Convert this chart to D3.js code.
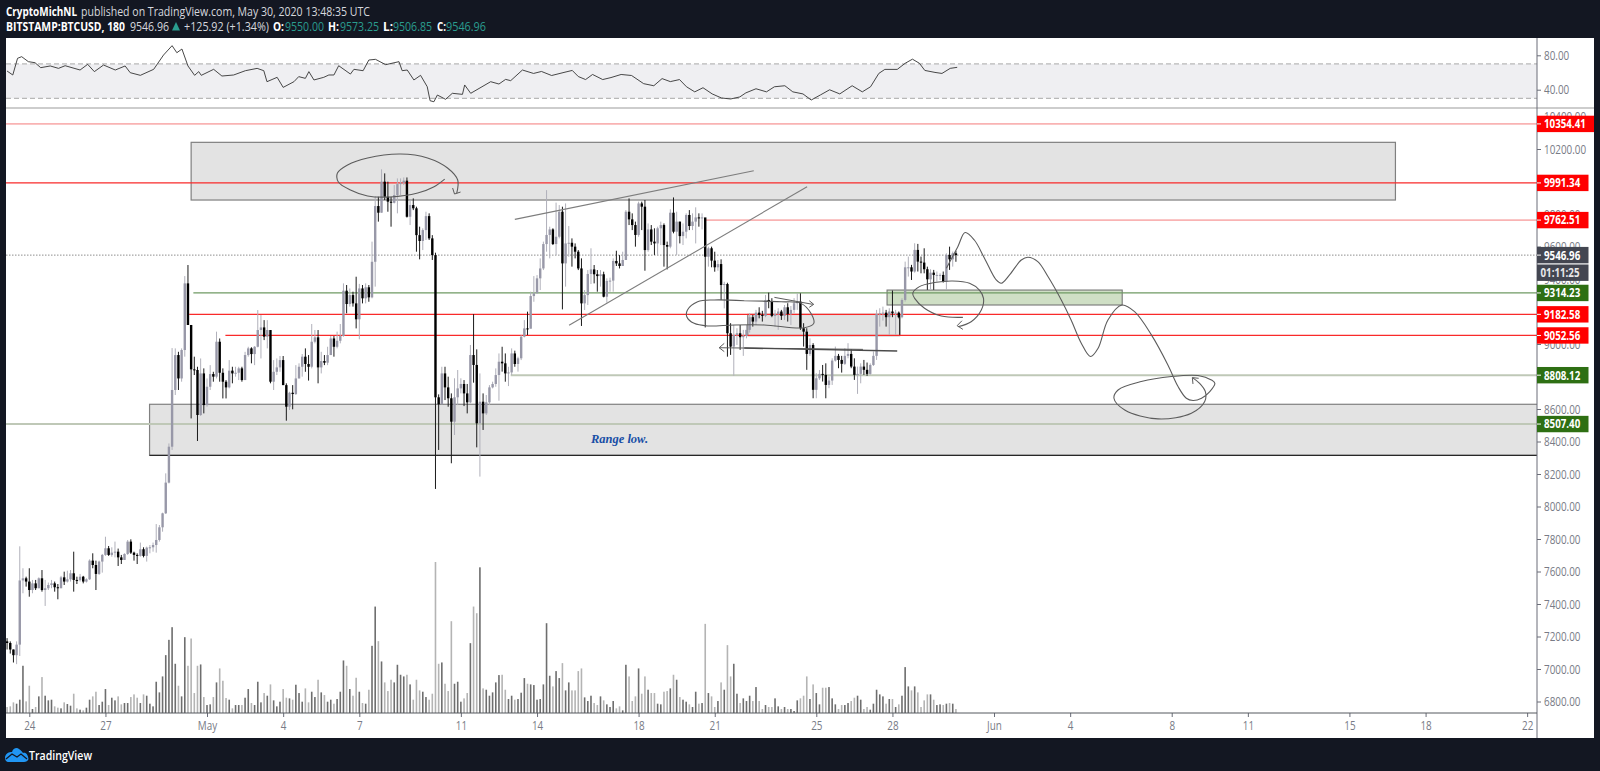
<!DOCTYPE html>
<html>
<head>
<meta charset="utf-8">
<script src="https://cdn.jsdelivr.net/npm/d3@7"></script>
<style>
  html, body { margin: 0; padding: 0; background: #131722; overflow: hidden; }
  text { font-family: "Open Sans", sans-serif; }
</style>
</head>
<body>
<script>
// 3 hour candles, first one is Apr 23 2020 03:00 UTC. Open = previous close.
const firstBar = Date.UTC(2020, 3, 23, 3);
const firstOpen = 7170;

const closes = [
  7160,7120,7085,7150,7545,7558,7538,7486,7527,7497,
  7558,7486,7497,7517,7527,7503,7497,7564,7538,7552,
  7589,7548,7547,7568,7538,7552,7667,7640,7585,7661,
  7702,7743,7702,7716,7722,7687,7671,7708,7784,7716,
  7702,7696,7737,7696,7747,7749,7763,7794,7872,7958,
  8147,8368,8717,8932,8788,8963,9373,9117,8844,8840,
  8563,8819,8624,8737,8815,8799,9014,8823,8768,8733,
  8836,8819,8823,8850,8778,8932,8973,8938,8983,9086,
  9102,9045,9086,8768,8829,8856,8901,8747,8614,8700,
  8692,8788,8860,8922,8877,8860,9014,9041,8856,8895,
  8885,8932,9034,8983,9020,9049,9328,9246,9301,9250,
  9152,9342,9281,9349,9287,9506,9849,9808,9999,9906,
  9876,9869,9917,9984,9992,10005,9783,9855,9835,9670,
  9634,9701,9787,9650,9547,8672,8629,8819,8733,8666,
  8522,8672,8727,8754,8696,8641,8932,8871,8512,8645,
  8573,8641,8733,8754,8809,8891,8881,8819,8825,8942,
  8877,8912,9045,9096,9094,9295,9312,9404,9465,9615,
  9671,9705,9615,9660,9814,9496,9619,9623,9599,9568,
  9465,9250,9301,9431,9459,9429,9418,9429,9291,9388,
  9390,9511,9496,9480,9517,9814,9767,9732,9671,9865,
  9845,9578,9705,9630,9619,9712,9732,9609,9599,9808,
  9691,9753,9664,9691,9794,9726,9753,9779,9773,9779,
  9537,9589,9513,9472,9492,9363,9369,9066,8984,9056,
  9066,9042,9050,9087,9165,9138,9193,9179,9173,9271,
  9261,9173,9185,9200,9173,9226,9185,9210,9251,9261,
  9097,9076,8939,8994,8718,8789,8816,8810,8748,8775,
  8898,8927,8902,8878,8927,8939,8861,8810,8816,8861,
  8841,8816,8871,8927,9185,9189,9193,9165,9200,9189,
  9193,9165,9271,9472,9472,9446,9579,9507,9501,9460,
  9398,9439,9425,9425,9425,9384,9548,9521,9558,9547
];
const highs = [
  7190,7170,7120,7170,7755,7620,7568,7620,7548,7548,
  7564,7609,7548,7532,7548,7538,7523,7573,7599,7605,
  7609,7722,7568,7585,7573,7558,7675,7712,7667,7667,
  7708,7814,7757,7749,7784,7741,7702,7712,7794,7798,
  7722,7712,7778,7749,7753,7763,7778,7892,7886,7962,
  8204,8388,8975,8973,8952,8973,9418,9486,9117,8922,
  8860,8911,8850,8788,8870,8829,9076,9034,8850,8778,
  8901,8860,8860,8860,8860,8952,8983,8980,8987,9209,
  9178,9147,9147,9076,8901,8911,8926,8926,8758,8706,
  8747,8870,8881,8938,8973,8932,9123,9086,9086,8952,
  8932,8983,9049,9049,9076,9123,9373,9363,9342,9322,
  9414,9370,9363,9373,9363,9630,9910,9906,10075,10050,
  9999,9906,9978,10019,10019,10025,10025,9886,9896,9845,
  9722,9712,9814,9804,9670,9562,8690,8860,8860,8799,
  8696,8789,8840,8789,8778,8754,8994,9184,8967,8819,
  8696,8686,8747,8768,8850,8942,8983,8942,8860,8973,
  8959,8922,9055,9147,9199,9322,9418,9424,9527,9630,
  9947,9722,9712,9870,9855,9845,9865,9726,9650,9619,
  9578,9527,9332,9455,9589,9486,9455,9455,9445,9404,
  9408,9527,9574,9547,9568,9824,9896,9804,9753,9876,
  9876,9886,9742,9732,9712,9722,9753,9742,9630,9829,
  9902,9814,9753,9742,9804,9824,9804,9841,9804,9804,
  9773,9599,9599,9568,9517,9521,9383,9377,9128,9117,
  9097,9117,9087,9117,9189,9179,9210,9226,9204,9302,
  9316,9282,9210,9220,9210,9240,9251,9234,9282,9312,
  9312,9128,9097,9035,9005,8820,8840,8871,8881,8800,
  8912,8984,8939,8927,8974,9005,8968,8912,8861,8881,
  8902,8886,8881,8954,9210,9220,9230,9210,9220,9329,
  9210,9200,9282,9507,9538,9487,9620,9616,9538,9589,
  9476,9460,9456,9446,9435,9446,9558,9599,9569,9573
];
const lows = [
  7120,7095,7040,7030,7080,7466,7507,7445,7466,7486,
  7497,7476,7388,7486,7497,7476,7429,7497,7517,7532,
  7538,7476,7523,7538,7527,7532,7548,7620,7486,7579,
  7593,7696,7696,7691,7687,7634,7646,7671,7702,7708,
  7667,7646,7691,7687,7661,7712,7722,7716,7784,7845,
  7954,8142,8348,8686,8717,8768,8922,9117,8542,8809,
  8403,8557,8573,8614,8717,8768,8788,8768,8665,8665,
  8727,8758,8799,8778,8768,8856,8922,8881,8870,8979,
  8911,9024,8973,8758,8717,8809,8829,8747,8528,8594,
  8598,8686,8788,8799,8829,8775,8850,9004,8758,8819,
  8870,8870,8932,8922,8973,9004,9045,9189,9230,9230,
  9096,9029,9250,9250,9260,9281,9353,9753,9808,9886,
  9814,9722,9865,9804,9917,9978,9778,9732,9824,9568,
  9521,9578,9640,9640,9517,8108,8348,8629,8655,8614,
  8266,8440,8624,8696,8618,8573,8635,8762,8364,8184,
  8471,8563,8624,8727,8737,8651,8830,8768,8741,8809,
  8860,8830,8901,9041,9055,9096,9260,9312,9332,9455,
  9568,9527,9609,9548,9650,9213,9353,9537,9476,9527,
  9455,9111,9209,9240,9369,9373,9322,9353,9287,9254,
  9322,9322,9480,9465,9486,9517,9732,9701,9599,9660,
  9701,9451,9568,9609,9548,9548,9609,9476,9459,9589,
  9681,9548,9619,9609,9650,9701,9701,9619,9722,9705,
  9102,9476,9472,9445,9451,9271,9219,8922,8933,8804,
  8994,8964,8927,9035,9070,9107,9117,9158,9138,9165,
  9220,9165,9107,9087,9148,9148,9138,9117,9189,9210,
  9087,8984,8841,8927,8666,8666,8779,8769,8666,8728,
  8748,8892,8851,8824,8871,8912,8851,8779,8693,8758,
  8810,8804,8810,8865,8902,9107,9144,9107,9056,9165,
  9056,9158,9158,9261,9415,9394,9439,9446,9435,9435,
  9333,9337,9333,9384,9394,9378,9333,9456,9476,9506
];
// relative volume per candle
const volumes = [
  18,20,32,28,40,142,35,82,12,18,50,108,52,38,40,20,16,14,32,27,
  22,58,14,10,8,16,40,50,64,24,34,72,24,46,38,50,26,30,30,48,
  56,46,30,56,52,28,20,94,62,110,174,220,258,148,82,50,228,142,224,60,
  142,146,48,24,26,48,92,134,97,45,40,14,24,24,24,46,72,30,24,94,
  32,60,52,86,38,20,34,72,46,44,40,85,60,34,74,32,64,48,100,62,
  54,34,40,28,42,64,158,142,72,52,106,64,30,28,70,202,320,216,155,92,
  66,100,92,145,115,110,115,86,40,100,68,64,48,40,58,454,148,152,88,66,
  276,88,94,34,44,60,210,320,300,438,74,70,52,62,92,114,115,70,42,52,
  40,42,61,105,88,86,84,40,42,86,270,112,80,126,105,150,68,92,68,68,
  126,134,47,36,52,30,24,50,38,26,18,36,14,20,8,145,110,36,50,134,
  58,110,70,60,60,28,26,64,66,74,115,100,48,40,34,26,18,64,28,30,
  268,60,50,18,36,92,70,204,110,148,58,30,44,36,52,36,78,36,12,24,
  18,18,44,20,12,18,12,12,6,38,44,52,110,42,86,60,26,76,76,78,
  44,26,12,24,24,30,36,46,52,40,12,18,10,28,70,56,50,28,42,42,
  18,26,52,138,80,68,80,62,18,38,56,56,40,24,26,24,28,30,28,12
];
// RSI as [bar, value]
const rsiLine = [
  [0,61.7],[1.8,57.1],[3.3,76.5],[4.6,78.4],[6.7,72.6],[8.8,71.4],[10.6,65.6],[13.6,67.6],
  [16.2,64.8],[18.3,67.9],[23,62.9],[25.4,69.5],[27.5,61],[30.4,68.7],[34.1,62.9],[37.2,67.6],
  [38.8,59.8],[42,56.7],[46.2,63.7],[49.3,80.3],[52,91.2],[53.5,83],[55.1,87.3],[57,67.6],
  [59.1,56.7],[60.4,61],[61.2,56.7],[65.1,63.7],[67.7,55.9],[71.4,57.1],[75.1,62.1],[78.8,64.8],
  [80.9,62.1],[81.9,49.3],[85.1,54.4],[87,42.7],[90.4,49.3],[91.9,55.2],[94,53.2],[95.1,61],
  [96.7,51.3],[99.8,54.4],[101.4,57.1],[103,57.1],[104.5,67.9],[108.2,58.2],[109.3,63.7],[112.2,62.1],
  [114,74.5],[116.1,75.3],[119.3,69.1],[123.5,72.6],[124.5,62.1],[126.1,62.9],[128.2,51.3],[130.3,56.7],
  [132.4,43.5],[133.3,27.2],[134.5,26],[135.6,33.8],[138.2,28.8],[140.3,35.8],[143.5,34.6],[144.2,45.5],
  [146.1,35.8],[152.4,49.3],[155,46.6],[157.1,52],[158.7,50.5],[162.4,62.9],[165.9,58.9],[168.4,61.2],
  [171.6,56.5],[175.5,60.1],[178.1,62.4],[180,55.3],[182.3,51.8],[184.5,57.7],[187.7,51.8],[190.3,54.1],
  [193.5,57.7],[196.8,56.5],[200.6,47],[203.8,44.6],[206.4,52.9],[209,49.4],[211.9,51.8],[214.1,43.4],
  [216.7,37.5],[219.3,42.3],[222.2,35.1],[225.1,30.4],[228,29.2],[230.9,31.6],[232.8,36.3],[236,41.1],
  [239.3,37.5],[241.8,43.4],[245.1,44.6],[247.6,37.5],[250.8,35.1],[253.4,28],[256.3,33.9],[259.2,39.9],
  [262.4,35.1],[266.3,44.6],[269.5,37.5],[272.1,43.4],[274.7,58.9],[276.6,63.6],[280.5,63.6],[283,70.7],
  [285.3,75.5],[287.5,70.7],[289.2,62.4],[292.4,60.1],[294.6,58.9],[297.2,64.8],[299.4,66]
];

const priceTicks = [6800,7000,7200,7400,7600,7800,8000,8200,8400,8600,8800,9000,9200,9400,9600,9800,10000,10200,10400];
const rsiTicks = [40,80];
const timeTicks = [
  [3,24],[3,27],[4,1],[4,4],[4,7],[4,11],[4,14],[4,18],[4,21],[4,25],[4,28],
  [5,1],[5,4],[5,8],[5,11],[5,15],[5,18],[5,22]
];
const timeTickLabels = ["24","27","May","4","7","11","14","18","21","25","28","Jun","4","8","11","15","18","22"];

// horizontal levels: price, first bar ('null' runs from the left edge), axis tag
const levelPrices = [10354.41, 9991.34, 9762.51, 9314.23, 9182.58, 9052.56, 8808.12, 8507.40];
const levelStarts = [null, null, 220, 58.7, 57.4, 68.8, 158.7, null];
const levelKinds = ["pink", "red", "pink", "green", "red", "red", "sage", "sage"];
const lastPrice = 9546.96;

// drawn zones: [bar from, bar to, price top, price bottom]
const greyZones = [
  [58, 437.5, 10241, 9886],
  [44.9, 520, 8629, 8315],
  [233.4, 281.3, 9182, 9052]
];
const greenZone = [277.3, 351.4, 9332, 9240];

// hand drawn strokes as [bar, price]
const wedgeTop = [[160,9767],[235.3,10066]];
const wedgeBottom = [[177.1,9115],[252.1,9968]];
const ovalTop = [[137.9,10015],[134.4,9966],[129.4,9929],[120.8,9905],[113.6,9911],[108.2,9948],[104.4,9997],[104.1,10052],[107.3,10102],[113.6,10145],[124,10169],[132.5,10145],[138.8,10083],[142,10009],[141.7,9929]];
const ovalTopHead = [[140.4,9960],[141,9923],[142.9,9935]];
const ovalMid = [[232.3,9266],[222.8,9271],[217.6,9260],[214.4,9209],[214.2,9168],[216.5,9127],[220.7,9111],[229.1,9117],[238.6,9117],[251.2,9100],[254.2,9127],[253.3,9189],[250.2,9250],[243.9,9260],[232.3,9266]];
const arrowRight = [[241.8,9287],[253.9,9244]];
const arrowRightHead = [[252.8,9266],[254.2,9244],[252.8,9226]];
const arrowLeft = [[224.4,8977],[269.7,8967]];
const arrowLeftHead = [[226,9004],[224.4,8977],[226,8953]];
const flatLine = [[232.3,8975],[280.5,8957]];
const ovalGreen = [[301.2,9164],[294.4,9172],[289.1,9220],[286,9281],[285.4,9312],[287.5,9353],[292.2,9378],[298,9388],[303.3,9374],[306.4,9332],[307.7,9281],[307,9209],[303.8,9137],[299.6,9106]];
const ovalGreenHead = [[301.2,9090],[299.4,9113],[300.9,9143]];
const projection = [[296,9466],[299.6,9599],[301.9,9686],[304.8,9640],[308,9528],[311.7,9394],[313.3,9374],[315.9,9425],[319.6,9517],[321.7,9534],[324.8,9507],[328,9415],[332.2,9271],[335.3,9148],[338.5,9005],[341.4,8923],[343.8,8974],[346.9,9148],[351.3,9240],[355.3,9199],[360.6,9056],[365.8,8871],[369,8738],[371.6,8666],[373.7,8652],[376.4,8666],[379,8707],[380.6,8758],[379.5,8779],[375.3,8806],[366.9,8800],[357.4,8769],[350.1,8717],[348.8,8666],[352.2,8594],[362.7,8539],[373.2,8574],[377.4,8646],[377.6,8707],[375.8,8758],[373.5,8793]];
const projectionHead = [[373.7,8754],[373.5,8793],[375.5,8789]];
const rangeNote = { text: "Range low.", bar: 193, price: 8392 };

const W = 1600, H = 771;
const plot = { left: 6, right: 1537, edge: 1594, top: 38, bottom: 738, sep: 108, axis: 713 };

const barTime = i => new Date(firstBar + i * 3 * 3600e3);

const x = d3.scaleUtc()
  .domain([Date.UTC(2020, 4, 1), Date.UTC(2020, 5, 1)])
  .range([207, 994]);
const y = d3.scaleLinear().domain([6800, 10200]).range([701.5, 149]);
const yRsi = d3.scaleLinear().domain([40, 80]).range([89.7, 55.3]);
const yVol = d3.scaleLinear().domain([0, 454]).range([plot.axis, 562]);
const xb = i => x(barTime(i));

// the reference text is set narrower than Open Sans
function squeeze(sel, f) {
  sel.each(function() {
    d3.select(this)
      .attr("textLength", this.getComputedTextLength() * f)
      .attr("lengthAdjust", "spacingAndGlyphs");
  });
}

const svg = d3.select("body").append("svg")
  .attr("width", W).attr("height", H)
  .style("display", "block");

svg.append("rect").attr("width", W).attr("height", H).attr("fill", "#131722");
svg.append("rect")
  .attr("x", plot.left).attr("y", plot.top)
  .attr("width", plot.edge - plot.left).attr("height", plot.bottom - plot.top)
  .attr("fill", "#ffffff");

const defs = svg.append("defs");
defs.append("clipPath").attr("id", "paneMain").append("rect")
  .attr("x", plot.left).attr("y", plot.sep)
  .attr("width", plot.right - plot.left).attr("height", plot.axis - plot.sep);

// ---- header
const green = "#2a9d8f", soft = "#d6d8de";
const headerRows = [
  ["CryptoMichNL", 6, 71, 15.5, 700, "#fff"],
  ["published on TradingView.com, May 30, 2020 13:48:35 UTC", 81, 289, 15.5, 400, soft],
  ["BITSTAMP:BTCUSD, 180", 6, 119, 30.5, 700, "#fff"],
  ["9546.96", 130, 39, 30.5, 400, soft],
  ["+125.92 (+1.34%)", 184, 85, 30.5, 400, soft],
  ["O:", 273, 11, 30.5, 700, "#fff"],
  ["9550.00", 285, 39, 30.5, 400, green],
  ["H:", 328, 11, 30.5, 700, "#fff"],
  ["9573.25", 340, 39, 30.5, 400, green],
  ["L:", 383, 10, 30.5, 700, "#fff"],
  ["9506.85", 393, 39, 30.5, 400, green],
  ["C:", 437, 9, 30.5, 700, "#fff"],
  ["9546.96", 446, 40, 30.5, 400, green]
];
svg.append("g").selectAll("text").data(headerRows).enter().append("text")
  .attr("x", d => d[1]).attr("y", d => d[3])
  .attr("textLength", d => d[2]).attr("lengthAdjust", "spacingAndGlyphs")
  .attr("font-size", 12.2)
  .attr("font-weight", d => d[4]).attr("fill", d => d[5])
  .text(d => d[0]);
svg.append("path").attr("d", "M172,30.5 L176,22 L180,30.5 Z").attr("fill", green);

// ---- RSI pane
svg.append("rect")
  .attr("x", plot.left).attr("width", plot.right - plot.left)
  .attr("y", yRsi(70)).attr("height", yRsi(30) - yRsi(70))
  .attr("fill", "#efeff2");
[70, 30].forEach(v => {
  svg.append("line")
    .attr("x1", plot.left).attr("x2", plot.right)
    .attr("y1", yRsi(v)).attr("y2", yRsi(v))
    .attr("stroke", "#a8a8a8").attr("stroke-dasharray", "5,3");
});
svg.append("path").datum(rsiLine)
  .attr("fill", "none").attr("stroke", "#333").attr("stroke-width", 0.9)
  .attr("d", d3.line().x(d => xb(d[0])).y(d => yRsi(d[1])));

svg.append("line")
  .attr("x1", plot.left).attr("x2", plot.edge)
  .attr("y1", plot.sep).attr("y2", plot.sep)
  .attr("stroke", "#bdbdbd").attr("stroke-width", 1.6);

// ---- price pane
const main = svg.append("g").attr("clip-path", "url(#paneMain)");

// zones
greyZones.forEach(z => {
  main.append("rect")
    .attr("x", xb(z[0])).attr("width", xb(z[1]) - xb(z[0]))
    .attr("y", y(z[2])).attr("height", y(z[3]) - y(z[2]))
    .attr("fill", "#e3e3e3").attr("stroke", "#808080").attr("stroke-width", 1.2);
});
main.append("line")
  .attr("x1", xb(greyZones[1][0])).attr("x2", plot.right)
  .attr("y1", y(greyZones[1][3])).attr("y2", y(greyZones[1][3]))
  .attr("stroke", "#111");
main.append("path")
  .attr("d", `M${xb(greyZones[2][0])},${y(greyZones[2][3])}H${xb(greyZones[2][1])}V${y(greyZones[2][2])}`)
  .attr("fill", "none").attr("stroke", "#111");
main.append("rect")
  .attr("x", xb(greenZone[0])).attr("width", xb(greenZone[1]) - xb(greenZone[0]))
  .attr("y", y(greenZone[2])).attr("height", y(greenZone[3]) - y(greenZone[2]))
  .attr("fill", "#cfdfc5").attr("stroke", "#777").attr("stroke-width", 1.1);

// levels
const levelStroke = { pink: "#f9b3b3", red: "#f92a2a", green: "#6f9a63", sage: "#bfc8b7" };
const levelWidth = { pink: 1.8, red: 1.3, green: 1.2, sage: 1.9 };
levelPrices.forEach((p, i) => {
  main.append("line")
    .attr("x1", levelStarts[i] === null ? plot.left : xb(levelStarts[i]))
    .attr("x2", plot.right)
    .attr("y1", y(p)).attr("y2", y(p))
    .attr("stroke", levelStroke[levelKinds[i]])
    .attr("stroke-width", levelWidth[levelKinds[i]]);
});
main.append("line")
  .attr("x1", plot.left).attr("x2", plot.right)
  .attr("y1", y(lastPrice)).attr("y2", y(lastPrice))
  .attr("stroke", "#8d8d8d").attr("stroke-dasharray", "1.5,1.5");

// volume
const isUp = i => closes[i] >= (i ? closes[i - 1] : firstOpen);
main.selectAll("rect.vol").data(volumes).enter().append("rect")
  .attr("class", "vol")
  .attr("x", (d, i) => xb(i) - 0.8)
  .attr("width", 1.6)
  .attr("y", d => yVol(d))
  .attr("height", d => yVol(0) - yVol(d))
  .attr("fill", (d, i) => isUp(i) ? "#6e6e6e" : "#b4b4b4");

// candles
const candles = main.selectAll("g.candle").data(closes).enter().append("g").attr("class", "candle");
candles.append("line")
  .attr("x1", (d, i) => xb(i)).attr("x2", (d, i) => xb(i))
  .attr("y1", (d, i) => y(highs[i])).attr("y2", (d, i) => y(lows[i]))
  .attr("stroke", (d, i) => isUp(i) ? "#b0b0ba" : "#1a1a1a")
  .attr("stroke-width", 1);
candles.append("rect")
  .attr("x", (d, i) => xb(i) - 1.2)
  .attr("width", 2.4)
  .attr("y", (d, i) => y(Math.max(d, i ? closes[i - 1] : firstOpen)))
  .attr("height", (d, i) => Math.max(1, Math.abs(y(d) - y(i ? closes[i - 1] : firstOpen))))
  .attr("fill", (d, i) => isUp(i) ? "#9898a8" : "#000");

// strokes
const straight = d3.line().x(d => xb(d[0])).y(d => y(d[1]));
const freehand = d3.line().x(d => xb(d[0])).y(d => y(d[1])).curve(d3.curveCatmullRom.alpha(0.5));
[wedgeTop, wedgeBottom].forEach(s => {
  main.append("path").attr("d", straight(s)).attr("fill", "none").attr("stroke", "#7d7d7d").attr("stroke-width", 1.1);
});
[ovalTop, ovalMid, ovalGreen, projection].forEach(s => {
  main.append("path").attr("d", freehand(s)).attr("fill", "none").attr("stroke", "#5c5c5c").attr("stroke-width", 1.1);
});
[ovalTopHead, arrowRight, arrowRightHead, arrowLeft, arrowLeftHead, ovalGreenHead, projectionHead].forEach(s => {
  main.append("path").attr("d", straight(s)).attr("fill", "none").attr("stroke", "#5c5c5c").attr("stroke-width", 1);
});
main.append("path").attr("d", straight(flatLine)).attr("fill", "none").attr("stroke", "#4a4a4a").attr("stroke-width", 1.4);

main.append("text")
  .attr("x", xb(rangeNote.bar)).attr("y", y(rangeNote.price))
  .attr("text-anchor", "middle")
  .attr("font-size", 12.5).attr("font-style", "italic").attr("font-weight", 700)
  .style("font-family", "'Liberation Serif', serif")
  .attr("fill", "#174ea6")
  .text(rangeNote.text);

// ---- axes
function styleAxis(g) {
  g.select(".domain").remove();
  g.selectAll(".tick line").attr("stroke", "#6a6d78");
  g.selectAll(".tick text").attr("fill", "#787b86").style("font-size", "12.5px").style("font-family", "'Open Sans', sans-serif")
    .call(squeeze, 0.79);
}

const axisPrice = d3.axisRight(y).tickValues(priceTicks).tickFormat(d3.format(".2f")).tickSize(4).tickPadding(3);
svg.append("g").attr("transform", `translate(${plot.right},0)`).call(axisPrice).call(styleAxis);
const axisRsi = d3.axisRight(yRsi).tickValues(rsiTicks).tickFormat(d3.format(".2f")).tickSize(4).tickPadding(3);
svg.append("g").attr("transform", `translate(${plot.right},0)`).call(axisRsi).call(styleAxis);
svg.append("line")
  .attr("x1", plot.right).attr("x2", plot.right)
  .attr("y1", plot.top).attr("y2", plot.bottom)
  .attr("stroke", "#6a6d78");

const axisTime = d3.axisBottom(x)
  .tickValues(timeTicks.map(t => new Date(Date.UTC(2020, t[0], t[1]))))
  .tickFormat((d, i) => timeTickLabels[i])
  .tickSize(4).tickPadding(4);
svg.append("g").attr("transform", `translate(0,${plot.axis})`).call(axisTime).call(styleAxis);
svg.append("line")
  .attr("x1", plot.left).attr("x2", plot.right)
  .attr("y1", plot.axis).attr("y2", plot.axis)
  .attr("stroke", "#55585f");

// ---- tags on the price axis
const tagFill = { pink: "#ff0000", red: "#ff0000", green: "#2e6f13", sage: "#2e6f13" };
function tag(py, label, fill, right) {
  svg.append("rect")
    .attr("x", plot.right).attr("width", right - plot.right)
    .attr("y", py - 8.2).attr("height", 16.4)
    .attr("fill", fill);
  svg.append("line")
    .attr("x1", plot.right).attr("x2", plot.right + 4)
    .attr("y1", py).attr("y2", py)
    .attr("stroke", "#fff");
  svg.append("text")
    .attr("x", plot.right + 7).attr("y", py + 4.4)
    .attr("font-size", 12.5).attr("font-weight", 700)
    .attr("fill", "#fff")
    .text(label)
    .call(squeeze, 0.78);
}
levelPrices.forEach((p, i) => {
  tag(y(p), p.toFixed(2), tagFill[levelKinds[i]], i === 0 ? 1594 : 1588.5);
});
tag(y(lastPrice), lastPrice.toFixed(2), "#434651", 1588.5);
svg.append("rect").attr("x", plot.right).attr("width", 51.5).attr("y", 264.5).attr("height", 16.4).attr("fill", "#434651");
svg.append("text").attr("x", plot.right + 3.5).attr("y", 277)
  .attr("font-size", 12.5).attr("font-weight", 700).attr("fill", "#e8e8ea").text("01:11:25")
  .call(squeeze, 0.78);

// ---- logo
const logo = svg.append("g").attr("transform", "translate(5,747)");
logo.append("path")
  .attr("d", "M0,10 C1,6 4,5 7,5 C8,1 12,0 14,2 C16,3 17,5 18,6 C21,5 23,8 23.5,12 C23,14 21,15 19,15 L4,15 C1,15 0,13 0,10Z")
  .attr("fill", "#2196f3");
logo.append("path")
  .attr("d", "M1,12 L7,7 L12,10 L16,7 L22,12")
  .attr("fill", "none").attr("stroke", "#131722").attr("stroke-width", 1.3);
svg.append("text").attr("x", 29).attr("y", 759.5)
  .attr("textLength", 63).attr("lengthAdjust", "spacingAndGlyphs")
  .attr("font-size", 12.6).attr("font-weight", 600).attr("fill", "#fff").text("TradingView");
</script>
</body>
</html>
